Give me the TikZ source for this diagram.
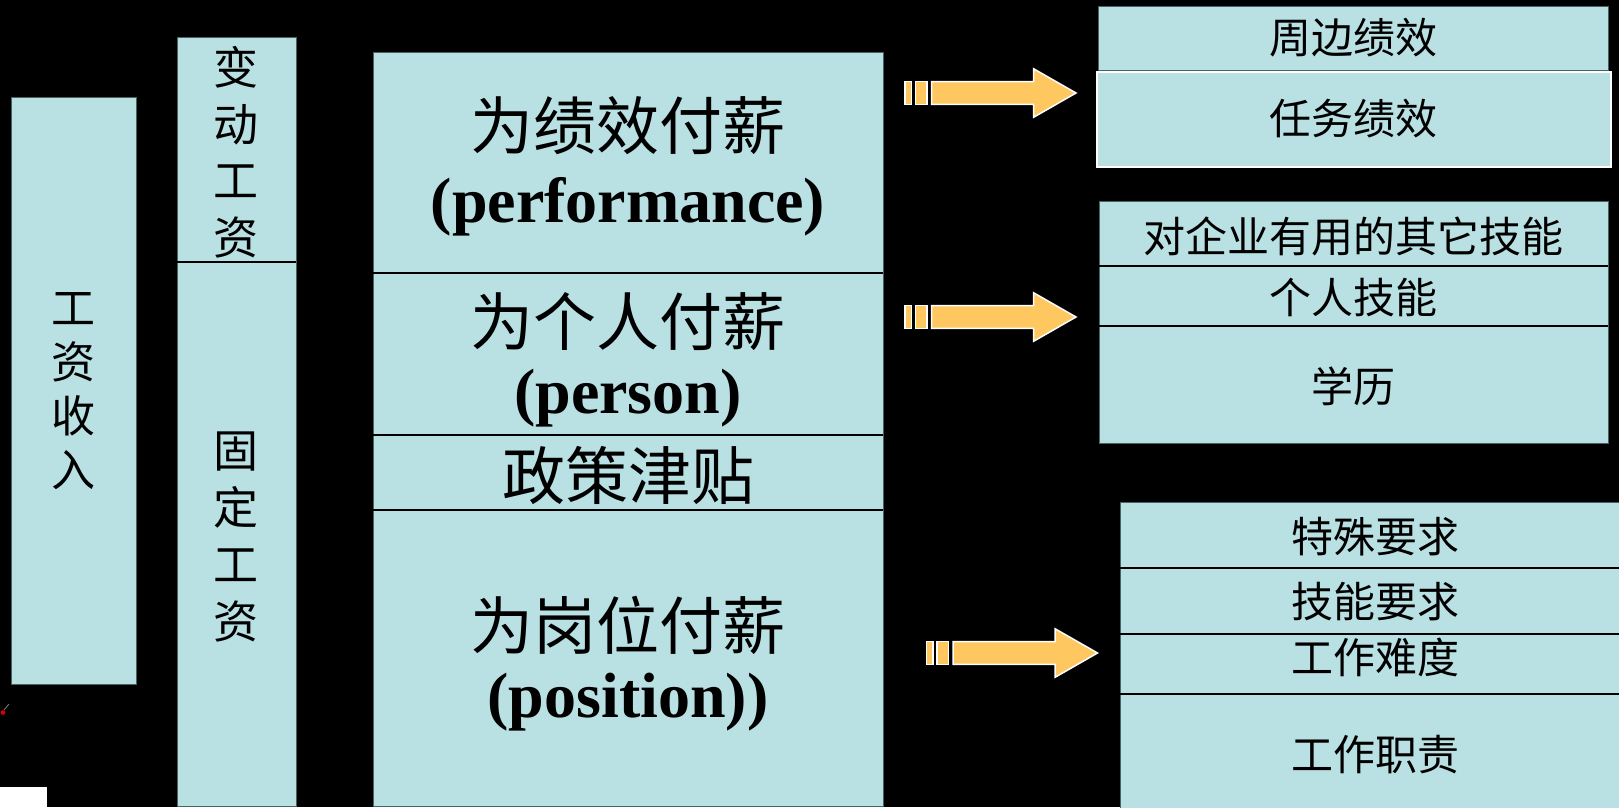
\documentclass[tikz,border=0pt]{standalone}
\usepackage{fontspec}
\setmainfont{Liberation Serif}
\newfontfamily\cjk{Noto Sans CJK SC}
\definecolor{cellfill}{RGB}{185,224,227}
\definecolor{cellline}{RGB}{70,100,100}
\definecolor{arrowfill}{RGB}{255,199,95}
\tikzset{
  cell/.style={rectangle, fill=cellfill, draw=cellline, line width=1pt, inner sep=0pt, outer sep=0pt},
  divider/.style={draw=black, line width=2pt},
  bigcn/.style={font=\cjk\fontsize{63}{63}\selectfont, inner sep=0pt},
  bigen/.style={font=\bfseries\fontsize{64}{64}\selectfont, inner sep=0pt},
  smallcn/.style={font=\cjk\fontsize{42}{42}\selectfont, inner sep=0pt},
  vtxt/.style={align=center, inner sep=0pt},
  arrowpart/.style={fill=arrowfill, draw=white, line width=1.5pt, line join=miter},
  pics/stripedarrow/.style={code={
    \path[arrowpart] (-171,-11.3) rectangle (-164.5,11.3);
    \path[arrowpart] (-160.3,-11.3) rectangle (-149,11.3);
    \path[arrowpart] (-144.3,-11.3) -- (-42.3,-11.3) -- (-42.3,-24.2) -- (0,0)
        -- (-42.3,24.2) -- (-42.3,11.3) -- (-144.3,11.3) -- cycle;
  }}
}
\begin{document}
\begin{tikzpicture}[x=1pt,y=-1pt]
\useasboundingbox (0,0) rectangle (1619,807);
\clip (0,0) rectangle (1619,807);
\fill[black] (0,0) rectangle (1619,807);

% left columns
\node[cell, minimum width=125pt, minimum height=587pt] (gzsr) at (73.5,390.5) {};
\node[cell, minimum width=119pt, minimum height=225pt] (bdgz) at (236.5,149.5) {};
\node[cell, minimum width=119pt, minimum height=544pt] (gdgz) at (236.5,534) {};
\draw[divider] (bdgz.south west) -- (bdgz.south east);

\node[vtxt, font=\cjk\fontsize{44}{54}\selectfont] (tgzsr) at (73,391) {工\\资\\收\\入};
\node[vtxt, font=\cjk\fontsize{45}{56.5}\selectfont] (tbdgz) at (236,152) {变\\动\\工\\资};
\node[vtxt, font=\cjk\fontsize{45}{57}\selectfont] (tgdgz) at (236,537) {固\\定\\工\\资};

% middle column
\node[cell, minimum width=510pt, minimum height=221pt] (perf) at (628,162.5) {};
\node[cell, minimum width=510pt, minimum height=162pt] (pers) at (628,354) {};
\node[cell, minimum width=510pt, minimum height=75pt] (zcjt) at (628,472.5) {};
\node[cell, minimum width=510pt, minimum height=296pt] (post) at (628,658) {};
\draw[divider] (perf.south west) -- (perf.south east);
\draw[divider] (pers.south west) -- (pers.south east);
\draw[divider] (zcjt.south west) -- (zcjt.south east);

\node[bigcn] (tperf1) at (628,126) {为绩效付薪};
\node[bigen] (tperf2) at (628,206.5) {(performance)};
\node[bigcn] (tpers1) at (628,322) {为个人付薪};
\node[bigen] (tpers2) at (628,398) {(person)};
\node[bigcn] (tzcjt) at (628,475) {政策津贴};
\node[bigcn] (tpost1) at (628,625) {为岗位付薪};
\node[bigen] (tpost2) at (628,702) {(position))};

% right group 1
\node[cell, minimum width=510pt, minimum height=64pt] (zbjx) at (1353,38) {};
\node[cell, draw=white, line width=1.5pt, minimum width=514pt, minimum height=95pt] (rwjx) at (1354,119.5) {};
\node[smallcn] (tzbjx) at (1353,38) {周边绩效};
\node[smallcn] (trwjx) at (1353,118.5) {任务绩效};

% right group 2
\node[cell, minimum width=509pt, minimum height=65pt] (qyjn) at (1353.5,233.5) {};
\node[cell, minimum width=509pt, minimum height=60pt] (grjn) at (1353.5,296) {};
\node[cell, minimum width=509pt, minimum height=117pt] (xl) at (1353.5,384.5) {};
\draw[divider] (qyjn.south west) -- (qyjn.south east);
\draw[divider] (grjn.south west) -- (grjn.south east);
\node[smallcn] (tqyjn) at (1353,236.5) {对企业有用的其它技能};
\node[smallcn] (tgrjn) at (1353,298) {个人技能};
\node[smallcn] (txl) at (1353,386.5) {学历};

% right group 3
\node[cell, minimum width=510pt, minimum height=65.2pt] (tsyq) at (1375,535.1) {};
\node[cell, minimum width=510pt, minimum height=66.6pt] (jnyq) at (1375,601) {};
\node[cell, minimum width=510pt, minimum height=59.7pt] (gznd) at (1375,664.15) {};
\node[cell, minimum width=510pt, minimum height=115pt] (gzzz) at (1375,751.5) {};
\draw[divider] (tsyq.south west) -- (tsyq.south east);
\draw[divider] (jnyq.south west) -- (jnyq.south east);
\draw[divider] (gznd.south west) -- (gznd.south east);
\node[smallcn] (ttsyq) at (1375,536.5) {特殊要求};
\node[smallcn] (tjnyq) at (1375,601.5) {技能要求};
\node[smallcn] (tgznd) at (1375,657) {工作难度};
\node[smallcn] (tgzzz) at (1375,755) {工作职责};

% arrows
\coordinate (a1) at (1076,93);
\coordinate (a2) at (1076,317);
\coordinate (a3) at (1097.5,653);
\pic at (a1) {stripedarrow};
\pic at (a2) {stripedarrow};
\pic at (a3) {stripedarrow};

% small marks at lower left
\fill[white] (0,787) rectangle (47,807);
\draw[gray, line width=0.8pt] (4,710) -- (9,704);
\fill[red!85!black] (3,712.5) circle (2.3);
\end{tikzpicture}
\end{document}
